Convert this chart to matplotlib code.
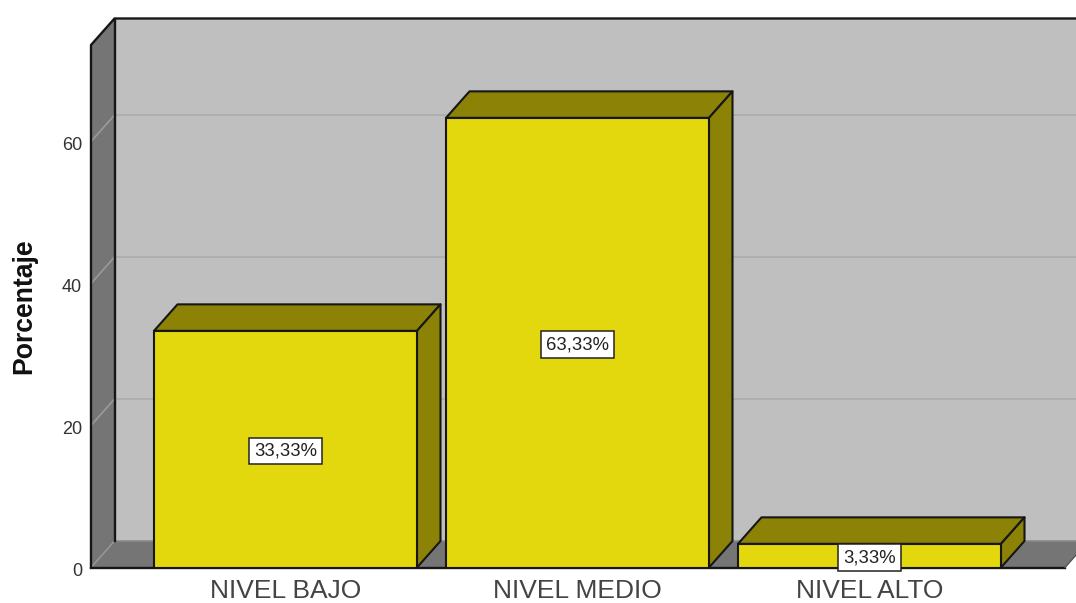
import matplotlib
matplotlib.use("Agg")
import matplotlib.pyplot as plt
from matplotlib.patches import Polygon

plt.rcParams['font.family'] = ['Liberation Sans', 'DejaVu Sans']

categories = ["NIVEL BAJO", "NIVEL MEDIO", "NIVEL ALTO"]
percentages = [33.33, 63.33, 3.33]
value_labels = ["33,33%", "63,33%", "3,33%"]
y_ticks = [0, 20, 40, 60]
y_axis_label = "Porcentaje"

W, H = 1076, 603
X0, Y0 = 91, 567.5    # pixel position of the front-left floor corner
PX_PER_CAT = 292.0
PX_PER_UNIT = 7.1
DX_PX, DY_PX = 23.5, 26.5
CENTER0 = 285.5

fig = plt.figure(figsize=(W / 100, H / 100), dpi=100, facecolor="white")
ax = fig.add_axes([X0 / W, (H - Y0) / H, (W - X0) / W, (Y0 - 17) / H])
ax.set_xlim((X0 - CENTER0) / PX_PER_CAT, (W - CENTER0) / PX_PER_CAT)
ax.set_ylim(0, (Y0 - 17) / PX_PER_UNIT)
ax.axis("off")

dx = DX_PX / PX_PER_CAT
dy = DY_PX / PX_PER_UNIT
xl = ax.get_xlim()[0]
xr = (1065 - CENTER0) / PX_PER_CAT
top = (Y0 - 45) / PX_PER_UNIT

EDGE = "#161616"
WALL = "#bfbfbf"
DARK = "#757575"
FACE = "#e3d80e"
SHADE = "#8c8206"
GRID = "#aeaeae"
GRID_SIDE = "#9a9a9a"

# back wall
ax.add_patch(Polygon([(xl + dx, dy), (xr + 2 * dx, dy), (xr + 2 * dx, top + dy), (xl + dx, top + dy)],
                     fc=WALL, ec="none", zorder=1))
# left wall
ax.add_patch(Polygon([(xl, 0), (xl + dx, dy), (xl + dx, top + dy), (xl, top)],
                     fc=DARK, ec="none", zorder=1))
# floor
ax.add_patch(Polygon([(xl, 0), (xr, 0), (xr + dx, dy), (xl + dx, dy)],
                     fc=DARK, ec="none", zorder=1))
# grid
for t in y_ticks[1:]:
    ax.plot([xl + dx, xr + 2 * dx], [t + dy, t + dy], color=GRID, lw=1.4, zorder=2)
    ax.plot([xl, xl + dx], [t, t + dy], color=GRID_SIDE, lw=1.2, zorder=2)
ax.plot([xl, xl + dx], [0, dy], color=GRID_SIDE, lw=1.0, zorder=2)
ax.plot([xl + dx, xr + dx], [dy, dy], color="#8a8a8a", lw=1.2, zorder=2)
# frame lines
ax.plot([xl, xl, xl + dx, xr + 2 * dx], [0, top, top + dy, top + dy], color=EDGE, lw=1.7, zorder=3, clip_on=False)
ax.plot([xl + dx, xl + dx], [dy, top + dy], color=EDGE, lw=1.7, zorder=3)
ax.plot([xl, xr], [0, 0], color=EDGE, lw=1.7, zorder=3, clip_on=False)
ax.plot([xr, xr + dx], [0, dy], color="#555555", lw=1.0, zorder=3)

# bars
width = 263.0 / PX_PER_CAT
positions = list(range(len(categories)))
ax.bar(positions, percentages, width=width, color=FACE, edgecolor=EDGE, linewidth=1.5, zorder=6)
for p, v, lab in zip(positions, percentages, value_labels):
    a, b = p - width / 2, p + width / 2
    ax.add_patch(Polygon([(a, v), (b, v), (b + dx, v + dy), (a + dx, v + dy)],
                         fc=SHADE, ec=EDGE, lw=1.5, joinstyle="round", zorder=5))
    ax.add_patch(Polygon([(b, 0), (b + dx, dy), (b + dx, v + dy), (b, v)],
                         fc=SHADE, ec=EDGE, lw=1.5, joinstyle="round", zorder=5))
    ax.annotate(lab, (p, v / 2), xytext=(0, -2), textcoords="offset pixels", ha="center", va="center",
                fontsize=13.3, color="#222222", zorder=8,
                bbox=dict(boxstyle="square,pad=0.26", fc="white", ec="#222222", lw=1.1))

# axis labels as text
for t in y_ticks:
    ax.annotate(str(t), (xl, t), xytext=(-9, -4), textcoords="offset pixels", ha="right", va="center",
                fontsize=13, color="#333333", annotation_clip=False)
for p, c in zip(positions, categories):
    ax.annotate(c, (p, 0), xytext=(0, -24), textcoords="offset pixels", ha="center", va="center",
                fontsize=19, color="#444444", annotation_clip=False)
fig.text(24 / W, 1 - 306 / H, y_axis_label, rotation=90, ha="center", va="center",
         fontsize=19.2, fontweight="bold", color="#111111")

fig.savefig("out.png", dpi=100, facecolor="white")
